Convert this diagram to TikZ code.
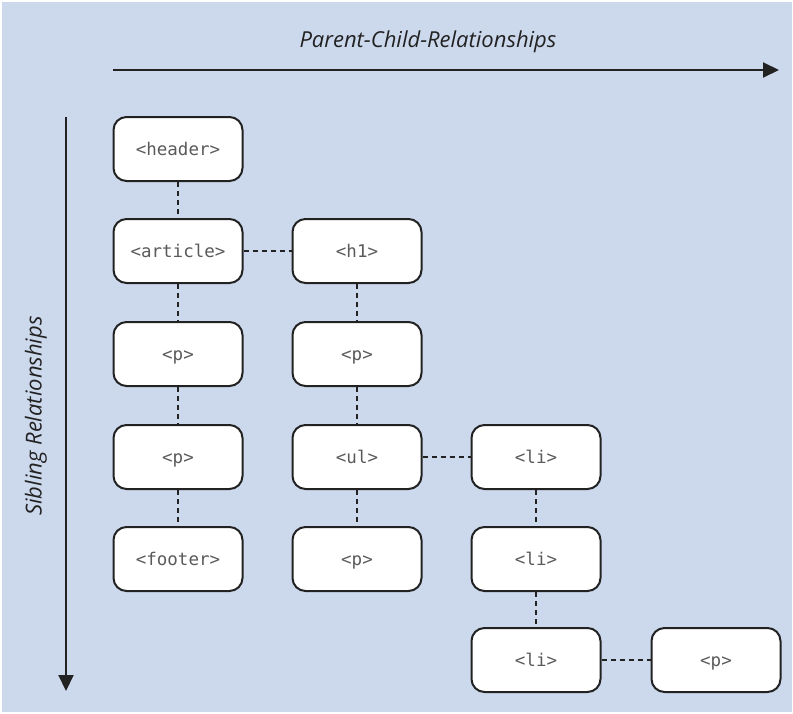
\documentclass[tikz,border=0pt]{standalone}
\usepackage{fontspec}
\setmainfont{Open Sans}
\newfontfamily\tagfont{DejaVu Sans Mono}
\usetikzlibrary{arrows.meta}
\definecolor{panel}{RGB}{204,217,237}
\definecolor{ink}{RGB}{34,34,34}
\definecolor{tagtext}{RGB}{90,90,90}
\tikzset{
  tagbox/.style={draw=ink, line width=2pt, fill=white, rounded corners=13pt,
    minimum width=129pt, minimum height=64pt, inner sep=0pt,
    text height=13.5pt, text depth=1pt,
    font=\tagfont\fontsize{17.5}{20}\selectfont, text=tagtext},
  link/.style={draw=ink, line width=2pt, dash pattern=on 5pt off 4pt},
  axis/.style={draw=ink, line width=2pt, -{Triangle[length=16pt,width=15pt]}},
  axislabel/.style={font=\itshape\fontsize{22}{26}\selectfont, text=ink}
}
\begin{document}
\begin{tikzpicture}[x=1pt,y=-1pt]
  \useasboundingbox (0,0) rectangle (793,713);
  \fill[white] (0,0) rectangle (793,713);
  \fill[panel] (1.5,1.5) rectangle (791.5,711.5);

  % axes
  \coordinate (hstart) at (113,70);
  \coordinate (hend) at (779,70);
  \coordinate (vstart) at (66,117);
  \coordinate (vend) at (66,691);
  \draw[axis] (hstart) -- (hend);
  \draw[axis] (vstart) -- (vend);
  \node[axislabel] (pcr) at (428,42) {Parent-Child-Relationships};
  \node[axislabel, rotate=90] (sr) at (36,416) {Sibling Relationships};

  % column 1
  \node[tagbox] (header)  at (178,149) {<header>};
  \node[tagbox] (article) at (178,251) {<article>};
  \node[tagbox] (p1)      at (178,354) {<p>};
  \node[tagbox] (p2)      at (178,457) {<p>};
  \node[tagbox] (footer)  at (178,559) {<footer>};
  % column 2
  \node[tagbox] (h1)      at (357,251) {<h1>};
  \node[tagbox] (p3)      at (357,354) {<p>};
  \node[tagbox] (ul)      at (357,457) {<ul>};
  \node[tagbox] (p4)      at (357,559) {<p>};
  % column 3
  \node[tagbox] (li1)     at (536,457) {<li>};
  \node[tagbox] (li2)     at (536,559) {<li>};
  \node[tagbox] (li3)     at (536,660) {<li>};
  % column 4
  \node[tagbox] (p5)      at (716,660) {<p>};

  % sibling links
  \draw[link] (header) -- (article);
  \draw[link] (article) -- (p1);
  \draw[link] (p1) -- (p2);
  \draw[link] (p2) -- (footer);
  \draw[link] (h1) -- (p3);
  \draw[link] (p3) -- (ul);
  \draw[link] (ul) -- (p4);
  \draw[link] (li1) -- (li2);
  \draw[link] (li2) -- (li3);
  % parent-child links
  \draw[link] (article) -- (h1);
  \draw[link] (ul) -- (li1);
  \draw[link] (li3) -- (p5);
\end{tikzpicture}
\end{document}
